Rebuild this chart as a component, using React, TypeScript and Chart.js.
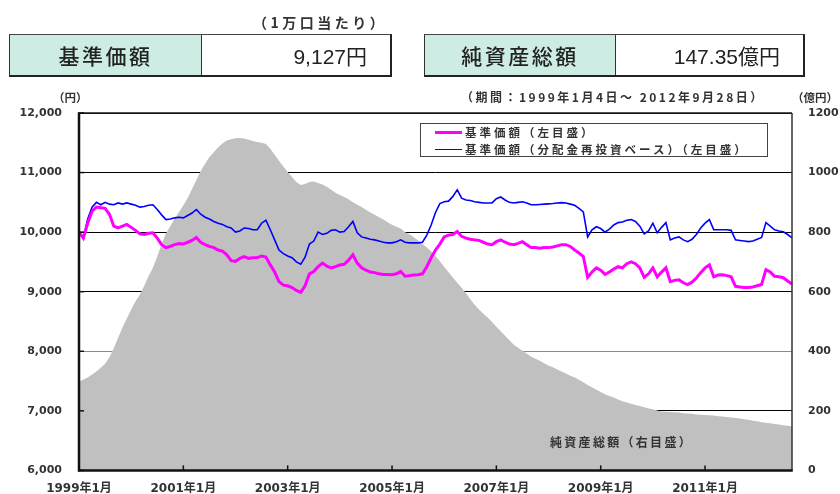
import React, { useEffect, useRef } from 'react';
import { Chart, registerables } from 'chart.js';

Chart.register(...registerables);

// ---- data (monthly, 1999年1月 .. 2012年9月) ----
const FIRST_YEAR = 1999;
const MONTH_COUNT = 165;
const MONTH_LABELS: string[] = Array.from({ length: MONTH_COUNT }, (_, i) =>
  `${FIRST_YEAR + Math.floor(i / 12)}年${(i % 12) + 1}月`
);
const TICK_LABELS = ['1999年1月', '2001年1月', '2003年1月', '2005年1月', '2007年1月', '2009年1月', '2011年1月'];

// 基準価額 (円)
const PRICE = [
  10000, 9900, 10150, 10350, 10420, 10410, 10400, 10300, 10100, 10070, 10100, 10130,
  10080, 10030, 9970, 9960, 9980, 9990, 9900, 9790, 9740, 9760, 9790, 9810,
  9800, 9830, 9860, 9910, 9830, 9790, 9760, 9740, 9700, 9680, 9620, 9520,
  9510, 9560, 9590, 9560, 9570, 9570, 9600, 9580, 9450, 9330, 9170, 9110,
  9100, 9070, 9020, 8990, 9100, 9300, 9340, 9420, 9480, 9430, 9400, 9420,
  9450, 9460, 9530, 9620, 9480, 9400, 9360, 9330, 9320, 9300, 9290, 9290,
  9285, 9300, 9340, 9260, 9270, 9280, 9285, 9300, 9420, 9570, 9700, 9800,
  9920, 9950, 9960, 10010, 9930, 9900, 9880, 9870, 9860, 9830, 9800, 9790,
  9840, 9870, 9830, 9800, 9790, 9810, 9840, 9790, 9740, 9740, 9730, 9740,
  9740, 9750, 9770, 9790, 9790, 9760, 9700, 9650, 9590, 9240, 9330, 9400,
  9360, 9290, 9330, 9380, 9420, 9400, 9470, 9500, 9470, 9400, 9240, 9300,
  9400, 9250, 9330, 9400, 9170, 9190, 9200, 9150, 9120, 9160, 9230, 9320,
  9400, 9450, 9250, 9280, 9285, 9270, 9250, 9090, 9080, 9070, 9070, 9080,
  9100, 9120, 9370, 9330, 9260, 9250, 9235, 9180, 9127,
];

// 基準価額（分配金再投資ベース）(円)
const REINVEST = [
  10000, 9900, 10220, 10420, 10500, 10460, 10500, 10470, 10460, 10490, 10470, 10490,
  10470, 10450, 10420, 10430, 10450, 10460, 10380, 10290, 10210, 10220, 10240, 10250,
  10240, 10280, 10320, 10380, 10300, 10250, 10220, 10180, 10150, 10130, 10090, 10070,
  10000, 10020, 10070, 10060, 10040, 10040, 10150, 10200, 10040, 9870, 9700, 9640,
  9600, 9570, 9500, 9460, 9580, 9800, 9850, 10000, 9960, 9980, 10030, 10040,
  10000, 10010, 10090, 10180, 9990, 9920, 9900, 9880, 9870, 9850, 9830, 9820,
  9820, 9840, 9870, 9830, 9820, 9820, 9820, 9830, 9950, 10120, 10330, 10480,
  10510, 10520, 10600, 10710, 10570, 10540, 10530, 10510, 10500, 10490, 10490, 10490,
  10560, 10590, 10540, 10500, 10490, 10500, 10510, 10490, 10460, 10460, 10465, 10470,
  10475, 10480, 10490, 10495, 10490, 10470, 10450, 10400, 10340, 9920, 10040, 10090,
  10060, 10000, 10050, 10120, 10160, 10170, 10200, 10210, 10180, 10100, 9970, 10020,
  10150, 9990, 10080, 10160, 9870, 9900, 9920, 9870, 9840, 9880, 9960, 10070,
  10150, 10210, 10040, 10040, 10040, 10040, 10030, 9870, 9860, 9850, 9840, 9850,
  9880, 9910, 10160, 10100, 10040, 10020, 10005, 9960, 9905,
];

// 純資産総額 (億円)
const NET_ASSETS = [
  298, 305, 312, 322, 332, 345, 358, 380, 410, 445, 480, 510,
  540, 568, 590, 620, 652, 680, 718, 760, 795, 820, 845, 868,
  890, 915, 945, 975, 1005, 1030, 1052, 1068, 1085, 1098, 1108, 1112,
  1115, 1116, 1114, 1110, 1106, 1103, 1100, 1096, 1080, 1060, 1040, 1020,
  1002, 985, 968, 958, 962, 968, 970, 965, 960, 952, 942, 932,
  925, 918, 910, 900, 892, 884, 875, 866, 858, 850, 842, 833,
  825, 818, 812, 800, 793, 783, 772, 760, 748, 735, 720, 702,
  684, 665, 648, 630, 613, 595, 575, 556, 540, 526, 513, 498,
  482, 467, 452, 437, 422, 412, 402, 392, 382, 375, 368, 360,
  352, 346, 339, 332, 325, 318, 312, 304, 296, 287, 279, 271,
  263, 256, 250, 245, 238, 232, 228, 224, 220, 216, 212, 208,
  205, 201, 198, 197, 196, 195, 194, 192, 191, 190, 188, 187,
  186, 185, 184, 182, 181, 179, 178, 176, 174, 172, 170, 167,
  165, 162, 160, 158, 156, 154, 152, 150, 147.35,
];

const LEFT_MIN = 6000;
const LEFT_MAX = 12000;
const LEFT_STEP = 1000;
const RIGHT_MIN = 0;
const RIGHT_MAX = 1200;
const RIGHT_STEP = 200;

const JP = '"Noto Sans CJK JP", sans-serif';
const NUM = '"DejaVu Sans", "Noto Sans CJK JP", sans-serif';

const framePlugin = {
  id: 'frame',
  afterDatasetsDraw(chart: any) {
    const { ctx, chartArea: a, scales } = chart;
    const line = (x1: number, y1: number, x2: number, y2: number) => {
      ctx.beginPath();
      ctx.moveTo(x1, y1);
      ctx.lineTo(x2, y2);
      ctx.stroke();
    };
    ctx.save();
    ctx.strokeStyle = '#1a1a1a';
    ctx.lineWidth = 1.5;
    line(a.left, a.top, a.right, a.top);
    ctx.strokeStyle = '#333';
    line(a.right, a.top, a.right, a.bottom);
    ctx.strokeStyle = '#111';
    ctx.lineWidth = 2.5;
    line(a.left, a.top - 0.75, a.left, a.bottom + 1);
    line(a.left - 1, a.bottom, a.right + 0.75, a.bottom);
    ctx.lineWidth = 1.5;
    scales.y.ticks.forEach((t: any) => {
      const py = scales.y.getPixelForValue(t.value);
      line(a.left, py, a.left + 5, py);
    });
    scales.x.ticks.forEach((t: any) => {
      const px = scales.x.getPixelForValue(t.value);
      line(px, a.bottom, px, a.bottom - 5);
    });
    ctx.restore();
  },
};

function ChartCanvas() {
  const ref = useRef<HTMLCanvasElement | null>(null);
  useEffect(() => {
    if (!ref.current) return;
    const chart = new Chart(ref.current, {
      type: 'line',
      data: {
        labels: MONTH_LABELS,
        datasets: [
          {
            label: '基準価額（左目盛）',
            data: PRICE,
            yAxisID: 'y',
            borderColor: '#ff00ff',
            borderWidth: 3,
            pointRadius: 0,
            fill: false,
            order: 1,
          },
          {
            label: '基準価額（分配金再投資ベース）（左目盛）',
            data: REINVEST,
            yAxisID: 'y',
            borderColor: '#0000ff',
            borderWidth: 1.6,
            pointRadius: 0,
            fill: false,
            order: 2,
          },
          {
            label: '純資産総額（右目盛）',
            data: NET_ASSETS,
            yAxisID: 'y1',
            borderColor: 'rgba(0,0,0,0)',
            borderWidth: 0,
            backgroundColor: '#c0c0c0',
            pointRadius: 0,
            fill: 'start',
            order: 3,
          },
        ],
      },
      options: {
        responsive: false,
        animation: false,
        events: [],
        layout: { padding: { top: 113, left: 0, right: 0, bottom: 0 } },
        plugins: { legend: { display: false }, tooltip: { enabled: false } },
        scales: {
          x: {
            type: 'category',
            grid: { display: false },
            border: { display: false },
            afterBuildTicks: (scale: any) => {
              scale.ticks = scale.ticks.filter((t: any) => TICK_LABELS.includes(MONTH_LABELS[t.value]));
            },
            afterFit: (scale: any) => {
              scale.height = 23;
            },
            ticks: {
              autoSkip: false,
              maxRotation: 0,
              minRotation: 0,
              padding: 3,
              color: '#333',
              font: { family: NUM, size: 12, weight: 'bold' },
            },
          },
          y: {
            position: 'left',
            min: LEFT_MIN,
            max: LEFT_MAX,
            grid: {
              drawTicks: false,
              lineWidth: 1,
              color: (c: any) => (c.tick && c.tick.value === 8000 ? '#8a8a8a' : '#000'),
            },
            border: { display: false },
            afterFit: (scale: any) => {
              scale.width = 79;
            },
            ticks: {
              stepSize: LEFT_STEP,
              padding: 17,
              color: '#333',
              font: { family: NUM, size: 11, weight: 'bold' },
              callback: (v: any) => Number(v).toLocaleString('en-US'),
            },
          },
          y1: {
            position: 'right',
            min: RIGHT_MIN,
            max: RIGHT_MAX,
            grid: { display: false, drawTicks: false },
            border: { display: false },
            afterFit: (scale: any) => {
              scale.width = 48;
            },
            ticks: {
              stepSize: RIGHT_STEP,
              padding: 16,
              color: '#333',
              font: { family: NUM, size: 11, weight: 'bold' },
              callback: (v: any) => String(v),
            },
          },
        },
      } as any,
      plugins: [framePlugin],
    });
    return () => chart.destroy();
  }, []);
  return <canvas ref={ref} width={840} height={494} style={{ position: 'absolute', left: 0, top: 0, width: 840, height: 494 }} />;
}

const abs = (style: React.CSSProperties): React.CSSProperties => ({
  position: 'absolute',
  whiteSpace: 'nowrap',
  ...style,
});

function InfoBox(props: { left: number; width: number; labelWidth: number; label: string; value: string }) {
  const { left, width, labelWidth, label, value } = props;
  return (
    <div
      style={abs({
        left,
        top: 34,
        width,
        height: 43,
        boxSizing: 'border-box',
        borderTop: '1px solid #444',
        borderLeft: '1.5px solid #333',
        borderRight: '2px solid #222',
        borderBottom: '2px solid #222',
        display: 'flex',
        background: '#fff',
      })}
    >
      <div
        style={{
          width: labelWidth,
          height: '100%',
          background: '#ccece4',
          borderRight: '1px solid #333',
          display: 'flex',
          alignItems: 'center',
          justifyContent: 'center',
          fontFamily: JP,
          fontSize: 21,
          fontWeight: 500,
          letterSpacing: '2.5px',
          color: '#222',
        }}
      >
        {label}
      </div>
      <div
        style={{
          flex: 1,
          display: 'flex',
          alignItems: 'center',
          justifyContent: 'flex-end',
          paddingRight: 23,
          fontFamily: '"Liberation Sans", "Noto Sans CJK JP", sans-serif',
          fontSize: 21,
          color: '#222',
        }}
      >
        {value}
      </div>
    </div>
  );
}

export default function App() {
  const small: React.CSSProperties = { fontFamily: JP, fontWeight: 700, color: '#333' };
  return (
    <div style={{ position: 'absolute', left: 0, top: 0, width: 840, height: 494, background: '#fff', overflow: 'hidden' }}>
      <ChartCanvas />
      <div style={abs({ ...small, left: 253, top: 13, fontSize: 14, lineHeight: '18px', letterSpacing: '3.5px' })}>（1万口当たり）</div>
      <InfoBox left={9} width={383} labelWidth={191} label="基準価額" value="9,127円" />
      <InfoBox left={424} width={381} labelWidth={190} label="純資産総額" value="147.35億円" />
      <div style={abs({ ...small, left: 53, top: 89, fontSize: 11.5, lineHeight: '16px' })}>（円）</div>
      <div style={abs({ ...small, left: 461, top: 89, fontSize: 12, lineHeight: '16px', letterSpacing: '2.5px' })}>
        （期間：1999年1月4日～ 2012年9月28日）
      </div>
      <div style={abs({ ...small, left: 792, top: 89, fontSize: 11.5, lineHeight: '16px' })}>（億円）</div>
      <div
        style={abs({
          left: 420,
          top: 123,
          width: 348,
          height: 34,
          boxSizing: 'border-box',
          border: '1px solid #444',
          background: '#fff',
        })}
      >
        <div style={abs({ left: 14, top: 7, width: 27, height: 3, background: '#ff00ff' })} />
        <div style={abs({ ...small, left: 44, top: 0, fontSize: 11.5, lineHeight: '17px', letterSpacing: '3px' })}>基準価額（左目盛）</div>
        <div style={abs({ left: 14, top: 24.5, width: 27, height: 1.8, background: '#0000ff' })} />
        <div style={abs({ ...small, left: 44, top: 17, fontSize: 11.5, lineHeight: '17px', letterSpacing: '3px' })}>
          基準価額（分配金再投資ベース）（左目盛）
        </div>
      </div>
      <div style={abs({ ...small, left: 550, top: 434, fontSize: 12, lineHeight: '16px', letterSpacing: '2.3px' })}>純資産総額（右目盛）</div>
    </div>
  );
}
